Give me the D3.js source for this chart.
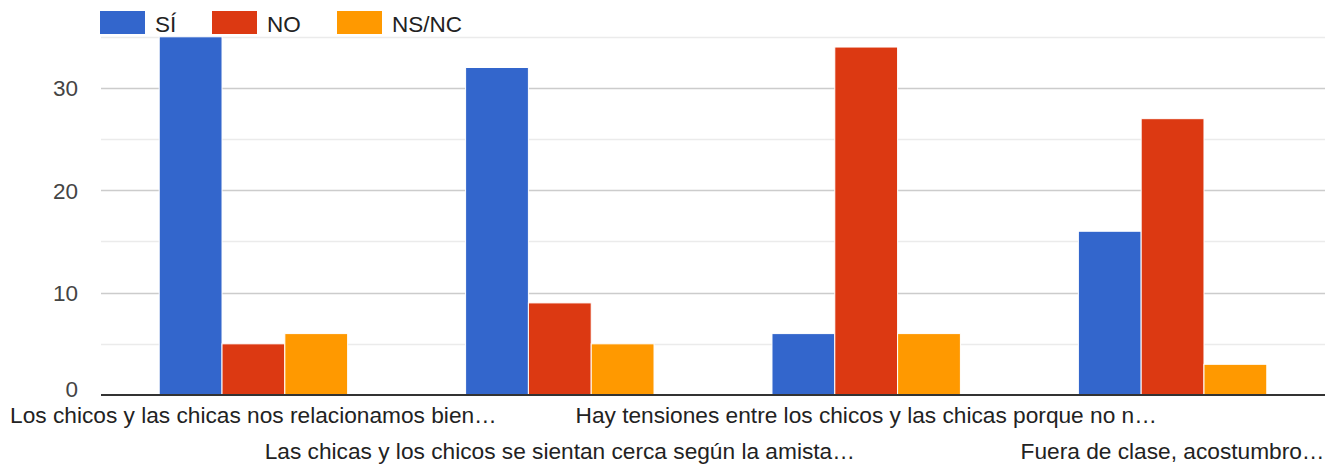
<!DOCTYPE html>
<html><head><meta charset="utf-8">
<script src="https://cdn.jsdelivr.net/npm/d3@7"></script>
<style>body{margin:0;background:#fff}svg{display:block}text{font-family:"Liberation Sans",Arial,sans-serif}</style>
</head><body><svg id="c" width="1338" height="464"></svg>
<script>
const categories = ["Los chicos y las chicas nos relacionamos bien…","Las chicas y los chicos se sientan cerca según la amista…","Hay tensiones entre los chicos y las chicas porque no n…","Fuera de clase, acostumbro…"];
const seriesNames = ["SÍ","NO","NS/NC"];
const si = [35,32,6,16];
const no = [5,9,34,27];
const nsnc = [6,5,6,3];
const colors = ["#3366cc","#dc3912","#ff9900"];
const majorTicks = [0,10,20,30];
const minorTicks = [5,15,25,35];

const svg = d3.select("#c");
const x = d3.scaleBand().domain(categories).range([101,1325]).paddingInner(0.385).paddingOuter(0.19);
const y = d3.scaleLinear().domain([0,35]).range([395,36.8]);
const series = [si,no,nsnc];
const xs = d3.scaleBand().domain(d3.range(3)).range([0,x.bandwidth()]);

const grid = svg.append("g");
minorTicks.forEach(t=>grid.append("line").attr("x1",101).attr("x2",1325).attr("y1",Math.round(y(t))+0.5).attr("y2",Math.round(y(t))+0.5).attr("stroke","#ebebeb").attr("stroke-width",1.5));
majorTicks.filter(t=>t>0).forEach(t=>grid.append("line").attr("x1",101).attr("x2",1325).attr("y1",Math.round(y(t))+0.5).attr("y2",Math.round(y(t))+0.5).attr("stroke","#cccccc").attr("stroke-width",1.5));

const yAxis = d3.axisLeft(y).tickValues(majorTicks).tickSize(0).tickPadding(0);
const ya = svg.append("g").attr("transform","translate(78,0)").call(yAxis);
ya.select(".domain").remove();
ya.selectAll("text").attr("font-size",22.5).attr("fill","#444").attr("font-family","Liberation Sans, Arial, sans-serif").attr("dy","0.35em");
ya.selectAll(".tick").filter(d=>d===0).select("text").attr("dy","0.07em");

categories.forEach((c,i)=>{
  series.forEach((s,j)=>{
    svg.append("rect").attr("x",x(c)+xs(j)).attr("width",xs.bandwidth()).attr("y",y(s[i])).attr("height",y(0)-y(s[i]))
      .attr("fill",colors[j]).attr("stroke","#fff").attr("stroke-width",1);
  });
});
svg.append("line").attr("x1",101).attr("x2",1325).attr("y1",395).attr("y2",395).attr("stroke","#333").attr("stroke-width",2);

const xAxis = d3.axisBottom(x).tickSize(0).tickPadding(0);
const xa = svg.append("g").attr("transform","translate(0,0)").call(xAxis);
xa.select(".domain").remove();
xa.selectAll("text").attr("font-size",22.7).attr("fill","#222").attr("font-family","Liberation Sans, Arial, sans-serif")
  .attr("dy",null).attr("y",(d,i)=> i%2===0 ? 423 : 459);

const leg = svg.append("g");
seriesNames.forEach((n,i)=>{
  const lx = [100,212,337][i];
  leg.append("rect").attr("x",lx).attr("y",11).attr("width",45).attr("height",23).attr("fill",colors[i]);
  leg.append("text").attr("x",lx+55).attr("y",32).attr("font-size",22.5).attr("fill","#222").text(n);
});
</script></body></html>
